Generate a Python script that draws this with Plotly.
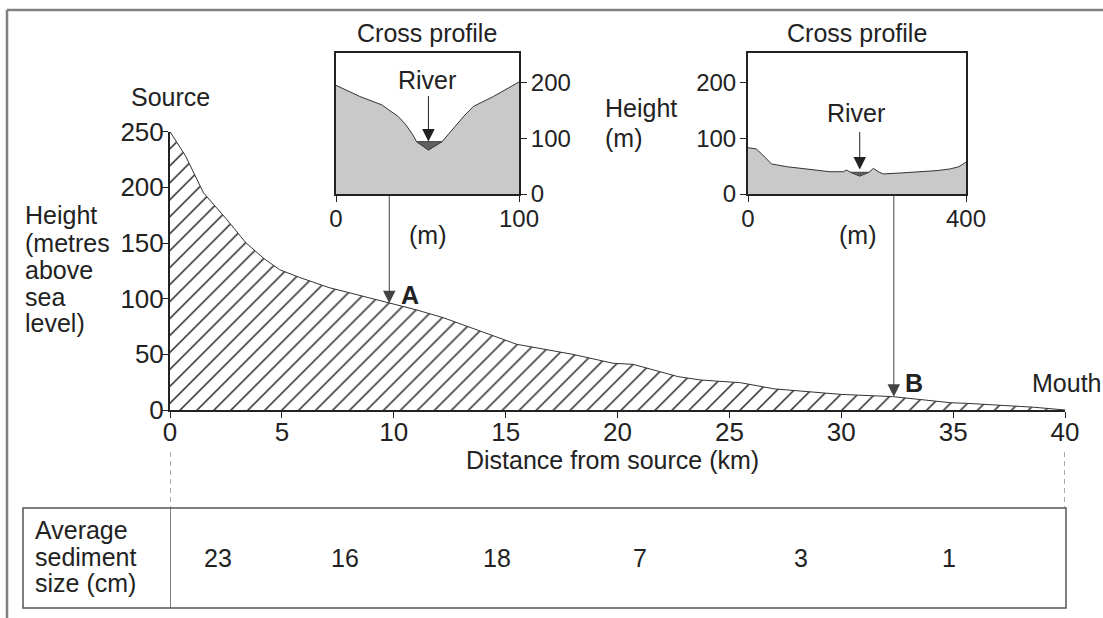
import plotly.graph_objects as go

W, H = 1103, 618

# ---------------- data ----------------
distance_km = [0, 0.7, 1.5, 2.5, 3.4, 4.2, 4.9, 5.8, 7.1, 8.5, 9.8, 11.0, 12.2, 13.7,
               15.5, 18.0, 19.8, 20.7, 22.7, 23.7, 25.5, 27.0, 30.0, 32.3, 34.9, 35.6,
               38.6, 40]
height_m = [250, 228, 195, 172, 150, 136, 126, 119, 110, 103, 96, 90, 83, 72,
            59, 50, 42, 41, 30, 27, 24.5, 19, 14, 12, 6.5, 6, 2.5, 0]
x_ticks = [0, 5, 10, 15, 20, 25, 30, 35, 40]
y_ticks = [0, 50, 100, 150, 200, 250]

# cross profile A (upstream)
cross_a_x = [0, 13, 25, 34, 38, 42, 44, 50.5, 58, 64, 70, 75, 86, 100]
cross_a_y = [195, 175, 160, 139, 125, 106, 94, 79, 94, 118, 140, 157, 175, 201]
river_a_x = [44, 50.5, 58, 44]
river_a_y = [94, 79, 94, 94]

# cross profile B (downstream)
cross_b_x = [0, 15, 27, 43, 71, 107, 150, 175, 181, 188, 205, 222, 230, 239, 248,
             285, 347, 371, 387, 400]
cross_b_y = [83, 81, 70, 54, 49, 45, 40, 40, 43, 39, 33, 39, 46, 40, 36,
             38, 42, 45, 49, 57]
river_b_x = [188, 205, 222, 188]
river_b_y = [39, 32, 39, 39]

point_a = (9.8, 96)
point_b = (32.35, 12)

sediment_sizes = [23, 16, 18, 7, 3, 1]
sediment_pos_km = [2.15, 7.8, 14.6, 21.0, 28.2, 34.8]

# ---------------- helpers ----------------
def px(x):
    return x / W

def py(y):
    return 1 - y / H

FONT = "Liberation Sans, Arial, sans-serif"
TXT = "#222222"

fig = go.Figure()

# main longitudinal profile (hatched)
fig.add_trace(go.Scatter(
    x=distance_km, y=height_m, mode="lines", fill="tozeroy",
    line=dict(color="#333333", width=1),
    fillcolor="white",
    fillpattern=dict(shape="/", size=12, solidity=0.12, fgcolor="#222222",
                     bgcolor="white", fillmode="replace"),
    xaxis="x", yaxis="y", hoverinfo="skip", showlegend=False))

# inset A
fig.add_trace(go.Scatter(
    x=cross_a_x, y=cross_a_y, mode="lines", fill="tozeroy",
    line=dict(color="#333333", width=1), fillcolor="#c9c9c9",
    xaxis="x2", yaxis="y2", hoverinfo="skip", showlegend=False))
fig.add_trace(go.Scatter(
    x=river_a_x, y=river_a_y, mode="lines", fill="toself",
    line=dict(color="#444444", width=1), fillcolor="#5f5f5f",
    xaxis="x2", yaxis="y2", hoverinfo="skip", showlegend=False))

# inset B
fig.add_trace(go.Scatter(
    x=cross_b_x, y=cross_b_y, mode="lines", fill="tozeroy",
    line=dict(color="#333333", width=1), fillcolor="#c9c9c9",
    xaxis="x3", yaxis="y3", hoverinfo="skip", showlegend=False))
fig.add_trace(go.Scatter(
    x=river_b_x, y=river_b_y, mode="lines", fill="toself",
    line=dict(color="#444444", width=1), fillcolor="#5f5f5f",
    xaxis="x3", yaxis="y3", hoverinfo="skip", showlegend=False))

axis_common = dict(showgrid=False, zeroline=False, showline=True, automargin=False,
                   linecolor="#222222", ticks="outside", tickcolor="#222222",
                   ticklen=6, tickwidth=1, fixedrange=True)

inset_ydom = [py(194), py(53)]

fig.update_layout(
    template="none",
    width=W, height=H, autosize=False,
    margin=dict(l=0, r=0, t=0, b=0, pad=0, autoexpand=False),
    paper_bgcolor="white", plot_bgcolor="rgba(0,0,0,0)",
    font=dict(family=FONT, color=TXT, size=25),
    xaxis=dict(domain=[px(170), px(1065)], range=[0, 40], tickvals=x_ticks,
               linewidth=2, tickfont=dict(size=26), anchor="y",
               ticklabelstandoff=-8, **axis_common),
    yaxis=dict(domain=[py(410), py(131.7)], range=[0, 250], tickvals=y_ticks,
               linewidth=2, tickfont=dict(size=26), anchor="x",
               ticklabelstandoff=-7, **axis_common),
    xaxis2=dict(domain=[px(336), px(519)], range=[0, 100], tickvals=[0, 100],
                linewidth=2, mirror=True, tickfont=dict(size=24), anchor="y2",
                ticklabelstandoff=-4, **axis_common),
    yaxis2=dict(domain=inset_ydom, range=[0, 253], tickvals=[0, 100, 200],
                side="right", linewidth=2, mirror=True, tickfont=dict(size=24),
                anchor="x2", ticklabelstandoff=-1, **axis_common),
    xaxis3=dict(domain=[px(748), px(966)], range=[0, 400], tickvals=[0, 400],
                linewidth=2, mirror=True, tickfont=dict(size=24), anchor="y3",
                ticklabelstandoff=-4, **axis_common),
    yaxis3=dict(domain=inset_ydom, range=[0, 253], tickvals=[0, 100, 200],
                side="left", linewidth=2, mirror=True, tickfont=dict(size=24),
                anchor="x3", ticklabelstandoff=-1, **axis_common),
)

ann = []

def text(t, x, y, xanchor="center", size=25, bold=False):
    ann.append(dict(text=("<b>%s</b>" % t) if bold else t, x=px(x), y=py(y),
                    xref="paper", yref="paper", xanchor=xanchor, yanchor="middle",
                    showarrow=False, font=dict(size=size, family=FONT, color=TXT)))

text("Source", 170, 97)
for i, line in enumerate(["Height", "(metres", "above", "sea", "level)"]):
    text(line, 23, [215, 243, 270, 297, 323][i], xanchor="left")
text("Cross profile", 427, 33)
text("Cross profile", 857, 33)
text("River", 427, 80)
text("River", 856, 113)
text("Height", 603, 108, xanchor="left")
text("(m)", 603, 138, xanchor="left")
text("(m)", 427, 235)
text("(m)", 857, 235)
text("A", 399, 295, xanchor="left", bold=True)
text("B", 903, 383, xanchor="left", bold=True)
text("Mouth", 1066, 383)
text("Distance from source (km)", 612, 460)
for i, line in enumerate(["Average", "sediment", "size (cm)"]):
    text(line, 33, [530, 557, 583][i], xanchor="left")

for v, k in zip(sediment_sizes, sediment_pos_km):
    ann.append(dict(text=str(v), x=k, y=py(558), xref="x", yref="paper",
                    xanchor="center", yanchor="middle", showarrow=False,
                    font=dict(size=25, family=FONT, color=TXT)))

# arrows: inset -> point on long profile
ann.append(dict(text="", x=point_a[0], y=point_a[1], xref="x", yref="y",
                showarrow=True, ax=0, ay=-(303 - 194), arrowhead=2, arrowsize=2.5,
                arrowwidth=1, arrowcolor="#444444", standoff=0))
ann.append(dict(text="", x=point_b[0], y=point_b[1], xref="x", yref="y",
                showarrow=True, ax=0, ay=-(397 - 194), arrowhead=2, arrowsize=2.5,
                arrowwidth=1, arrowcolor="#444444", standoff=0))
# river arrows
ann.append(dict(text="", x=river_a_x[1], y=river_a_y[0], xref="x2", yref="y2",
                showarrow=True, ax=0, ay=-47, arrowhead=2, arrowsize=2.5,
                arrowwidth=1, arrowcolor="#222222", standoff=0))
ann.append(dict(text="", x=(river_b_x[0] + river_b_x[2]) / 2, y=44, xref="x3", yref="y3",
                showarrow=True, ax=0, ay=-39, arrowhead=2, arrowsize=2.5,
                arrowwidth=1, arrowcolor="#222222", standoff=0))

shapes = []
# outer frame (left + top)
shapes.append(dict(type="line", xref="paper", yref="paper", x0=px(7), x1=px(7),
                   y0=py(10), y1=py(618), line=dict(color="#808080", width=2.5)))
shapes.append(dict(type="line", xref="paper", yref="paper", x0=px(7), x1=px(1103),
                   y0=py(10), y1=py(10), line=dict(color="#808080", width=2.5)))
# dashed guides
for xv in [0, 40]:
    shapes.append(dict(type="line", xref="x", yref="paper", x0=xv, x1=xv,
                       y0=py(452), y1=py(508),
                       line=dict(color="#555555", width=1, dash="5px,4px")))
# table
shapes.append(dict(type="rect", xref="paper", yref="paper", x0=px(23), x1=px(1066),
                   y0=py(608), y1=py(508), line=dict(color="#555555", width=1.5)))
shapes.append(dict(type="line", xref="x", yref="paper", x0=0, x1=0,
                   y0=py(608), y1=py(508), line=dict(color="#555555", width=1.5)))

fig.update_layout(annotations=ann, shapes=shapes)
fig.write_html("out.html", config={"displayModeBar": False},
               post_script="document.body.style.margin='0';document.body.style.overflow='hidden';")
